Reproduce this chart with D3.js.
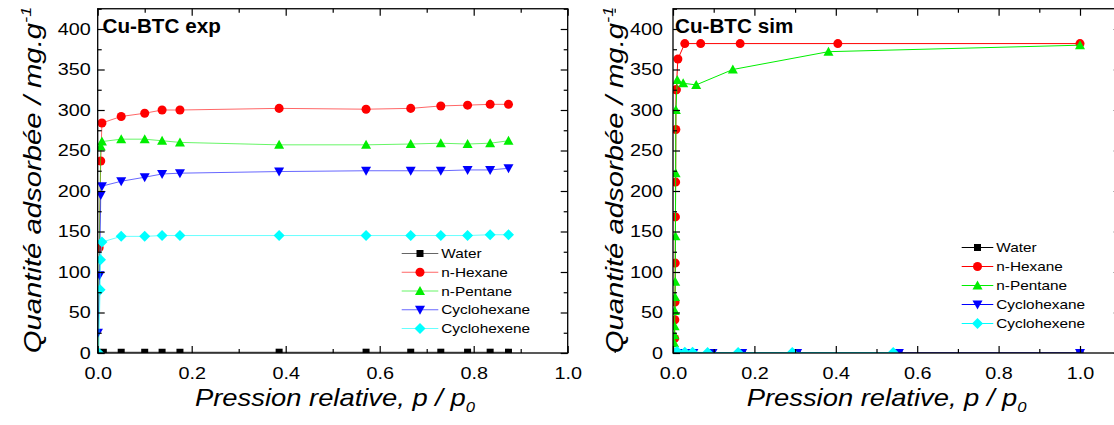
<!DOCTYPE html>
<html><head><meta charset="utf-8">
<script src="https://cdn.jsdelivr.net/npm/d3@7"></script>
<style>body{margin:0;background:#fff} svg{display:block} text{font-family:"Liberation Sans",Arial,sans-serif;fill:#000}</style>
</head><body><svg id="c" width="1114" height="425"></svg>
<script>
// ---------- data ----------
const seriesNames = ["Water", "n-Hexane", "n-Pentane", "Cyclohexane", "Cyclohexene"];
const seriesColors = ["#000000", "#ff0000", "#00ee00", "#0000ff", "#00ffff"];
const seriesSymbols = ["square", "circle", "triangle", "triangleDown", "diamond"];
const xTickValues = [0, 0.2, 0.4, 0.6, 0.8, 1.0];
const xMinorValues = [0.1, 0.3, 0.5, 0.7, 0.9, 1.1];
const yTickValues = [0, 50, 100, 150, 200, 250, 300, 350, 400];
const yMinorValues = [25, 75, 125, 175, 225, 275, 325, 375, 425];

// Cu-BTC exp
const expWaterP = [0.001, 0.012, 0.05, 0.1, 0.137, 0.175, 0.386, 0.571, 0.666, 0.73, 0.787, 0.835, 0.874];
const expWaterQ = [0, 1, 1, 1, 1, 1, 1, 1, 1, 1, 1, 1, 1];
const expHexaneP = [0.003, 0.0065, 0.009, 0.05, 0.1, 0.137, 0.175, 0.386, 0.571, 0.666, 0.73, 0.787, 0.835, 0.874];
const expHexaneQ = [130, 237, 284, 292, 296, 300, 300, 302, 301, 302, 305, 306, 307, 307];
const expPentaneP = [0.0005, 0.0065, 0.009, 0.05, 0.1, 0.137, 0.175, 0.386, 0.571, 0.666, 0.73, 0.787, 0.835, 0.874];
const expPentaneQ = [0, 255, 261, 264, 264, 262, 260, 257, 257, 258, 259, 258, 259, 262];
const expCyclohexaneP = [0.0005, 0.004, 0.0065, 0.009, 0.05, 0.1, 0.137, 0.175, 0.386, 0.571, 0.666, 0.73, 0.787, 0.835, 0.874];
const expCyclohexaneQ = [25, 96, 195, 206, 212, 217, 221, 222, 224, 225, 225, 225, 226, 226, 228];
const expCyclohexeneP = [0.002, 0.005, 0.006, 0.009, 0.05, 0.1, 0.137, 0.175, 0.386, 0.571, 0.666, 0.73, 0.787, 0.835, 0.874];
const expCyclohexeneQ = [0, 78, 115, 137, 144, 144, 145, 145, 145, 145, 145, 145, 145, 146, 146];

// Cu-BTC sim
const simWaterP = [0.002, 0.012, 0.03, 0.05, 0.097, 0.17, 0.305, 0.555, 1.0];
const simWaterQ = [0, 0, 0, 0, 0, 0, 0, 0, 0];
const simHexaneP = [0.004, 0.0045, 0.005, 0.0055, 0.006, 0.0065, 0.007, 0.0075, 0.008, 0.012, 0.029, 0.068, 0.165, 0.405, 1.0];
const simHexaneQ = [18, 41, 63, 111, 168, 211, 276, 325, 325, 363, 382, 382, 382, 382, 382];
const simPentaneP = [0.003, 0.0035, 0.004, 0.0045, 0.005, 0.0055, 0.006, 0.0065, 0.007, 0.0105, 0.025, 0.057, 0.147, 0.382, 1.0];
const simPentaneQ = [12, 22, 33, 52, 69, 88, 144, 222, 300, 337, 333, 331, 350, 372, 380];
const simCyclohexaneP = [0.002, 0.012, 0.03, 0.05, 0.097, 0.17, 0.305, 0.555, 1.0];
const simCyclohexaneQ = [0, 0, 0, 0, 0, 0, 0, 0, 0];
const simCyclohexeneP = [0.002, 0.01, 0.029, 0.048, 0.085, 0.16, 0.293, 0.541];
const simCyclohexeneQ = [0, 2, 1, 1, 0.5, 0.5, 0.5, 0.5];

// ---------- drawing ----------
const svg = d3.select("#c");
const Y0 = 353, YT = 8.75;

function symbolPath(type) {
  switch (type) {
    case "square": return "M-3.5,-3.5H3.5V3.5H-3.5Z";
    case "circle": return d3.symbol(d3.symbolCircle, 64)();
    case "triangle": return "M0,-5L5,4L-5,4Z";
    case "triangleDown": return "M0,5L5,-4L-5,-4Z";
    case "diamond": return "M0,-5.5L5.5,0L0,5.5L-5.5,0Z";
  }
}
function stretch(sel, s) {
  sel.each(function () {
    const L = this.getComputedTextLength();
    this.setAttribute("textLength", L * s);
    this.setAttribute("lengthAdjust", "spacingAndGlyphs");
  });
}

function panel(cfg) {
  const x = d3.scaleLinear().domain(cfg.xDomain).range([cfg.left, cfg.right]);
  const y = d3.scaleLinear().domain([0, 425]).range([Y0, YT]);
  const g = svg.append("g");
  const cid = "clip-" + cfg.name;
  svg.append("clipPath").attr("id", cid).append("rect")
    .attr("x", cfg.left).attr("y", YT).attr("width", cfg.right - cfg.left).attr("height", Y0 - YT);
  const plot = g.append("g").attr("clip-path", `url(#${cid})`);
  cfg.series.forEach((s, i) => {
    const pts = s.p.map((p, j) => [p, s.q[j]]);
    plot.append("path")
      .attr("d", d3.line().x(d => x(d[0])).y(d => y(d[1]))(pts))
      .attr("fill", "none").attr("stroke", seriesColors[i]).attr("stroke-width", 1)
      .attr("stroke-opacity", cfg.lineOpacity);
    plot.append("g").selectAll("path").data(pts).enter().append("path")
      .attr("transform", d => `translate(${x(d[0])},${y(d[1])})`)
      .attr("d", symbolPath(seriesSymbols[i])).attr("fill", seriesColors[i]);
  });

  const axFont = sel => sel.selectAll("text").attr("font-size", "16.5px").attr("fill", "#000").call(stretch, 1.2);
  // bottom
  const bx = g.append("g").attr("transform", `translate(0,${Y0})`)
    .call(d3.axisBottom(x).tickValues(xTickValues).tickSizeInner(-7).tickSizeOuter(0).tickPadding(14).tickFormat(d3.format(".1f")));
  bx.call(axFont);
  g.append("g").attr("transform", `translate(0,${Y0})`)
    .call(d3.axisBottom(x).tickValues(xMinorValues).tickSizeInner(-4).tickSizeOuter(0).tickFormat(""));
  // top
  g.append("g").attr("transform", `translate(0,${YT})`)
    .call(d3.axisTop(x).tickValues(xTickValues).tickSizeInner(-7).tickSizeOuter(0).tickFormat(""));
  g.append("g").attr("transform", `translate(0,${YT})`)
    .call(d3.axisTop(x).tickValues(xMinorValues).tickSizeInner(-4).tickSizeOuter(0).tickFormat(""));
  // left
  const ly = g.append("g").attr("transform", `translate(${cfg.left},0)`)
    .call(d3.axisLeft(y).tickValues(yTickValues).tickSizeInner(-7).tickSizeOuter(0).tickPadding(cfg.yPad).tickFormat(d3.format("d")));
  ly.call(axFont);
  g.append("g").attr("transform", `translate(${cfg.left},0)`)
    .call(d3.axisLeft(y).tickValues(yMinorValues).tickSizeInner(-4).tickSizeOuter(0).tickFormat(""));
  // right
  g.append("g").attr("transform", `translate(${cfg.right},0)`)
    .call(d3.axisRight(y).tickValues(yTickValues).tickSizeInner(-7).tickSizeOuter(0).tickFormat(""));
  g.append("g").attr("transform", `translate(${cfg.right},0)`)
    .call(d3.axisRight(y).tickValues(yMinorValues).tickSizeInner(-4).tickSizeOuter(0).tickFormat(""));
  g.selectAll(".domain").remove();
  g.selectAll(".tick line").attr("stroke", "#000").attr("stroke-width", 1.2);
  g.append("rect").attr("x", cfg.left).attr("y", YT).attr("width", cfg.right - cfg.left).attr("height", Y0 - YT)
    .attr("fill", "none").attr("stroke", "#000").attr("stroke-width", 1.3);

  // title
  const t = g.append("text").attr("x", cfg.titleX).attr("y", 32.5).attr("font-size", "19.5px")
    .attr("font-weight", "bold").text(cfg.title);
  stretch(t, 1.06);

  // x label
  const xl = g.append("g").attr("transform", `translate(${cfg.xLabelX},406) scale(1.19,1)`)
    .append("text").attr("font-size", "23px").attr("font-style", "italic");
  xl.append("tspan").text("Pression relative, p / p");
  xl.append("tspan").attr("font-size", "14px").attr("dy", 6).text("0");
  // y label
  const yl = g.append("g").attr("transform", `translate(${cfg.yLabelX},180) rotate(-90) scale(1.22,1)`)
    .append("text").attr("text-anchor", "middle").attr("font-size", "24px").attr("font-style", "italic");
  yl.append("tspan").text("Quantité adsorbée / mg.g");
  yl.append("tspan").attr("font-size", "15px").attr("dy", -10).text("-1");

  // legend
  const lg = g.append("g");
  seriesNames.forEach((n, i) => {
    const yy = cfg.legY + i * cfg.legStep;
    lg.append("line").attr("x1", cfg.legX1).attr("x2", cfg.legX2).attr("y1", yy).attr("y2", yy)
      .attr("stroke", seriesColors[i]).attr("stroke-width", 1).attr("stroke-opacity", cfg.lineOpacity);
    lg.append("path").attr("transform", `translate(${(cfg.legX1 + cfg.legX2) / 2},${yy})`)
      .attr("d", symbolPath(seriesSymbols[i])).attr("fill", seriesColors[i]);
    const tx = lg.append("text").attr("x", cfg.legX2 + 3).attr("y", yy + 4.7).attr("font-size", "13px").text(n);
    stretch(tx, 1.18);
  });
}

panel({
  name: "exp", title: "Cu-BTC exp", xDomain: [0, 1], left: 97.7, right: 567.7, yPad: 7,
  titleX: 102.5, xLabelX: 195, yLabelX: 41, lineOpacity: 0.6,
  legY: 253.5, legStep: 18.75, legX1: 401.7, legX2: 438.3,
  series: [
    { p: expWaterP, q: expWaterQ }, { p: expHexaneP, q: expHexaneQ }, { p: expPentaneP, q: expPentaneQ },
    { p: expCyclohexaneP, q: expCyclohexaneQ }, { p: expCyclohexeneP, q: expCyclohexeneQ }
  ]
});
panel({
  name: "sim", title: "Cu-BTC sim", xDomain: [0, 1.1], left: 673, right: 673 + 407 * 1.1, yPad: 10,
  titleX: 675, xLabelX: 746.7, yLabelX: 623, lineOpacity: 1,
  legY: 247.5, legStep: 19, legX1: 961.7, legX2: 993.3,
  series: [
    { p: simWaterP, q: simWaterQ }, { p: simHexaneP, q: simHexaneQ }, { p: simPentaneP, q: simPentaneQ },
    { p: simCyclohexaneP, q: simCyclohexaneQ }, { p: simCyclohexeneP, q: simCyclohexeneQ }
  ]
});
</script></body></html>
